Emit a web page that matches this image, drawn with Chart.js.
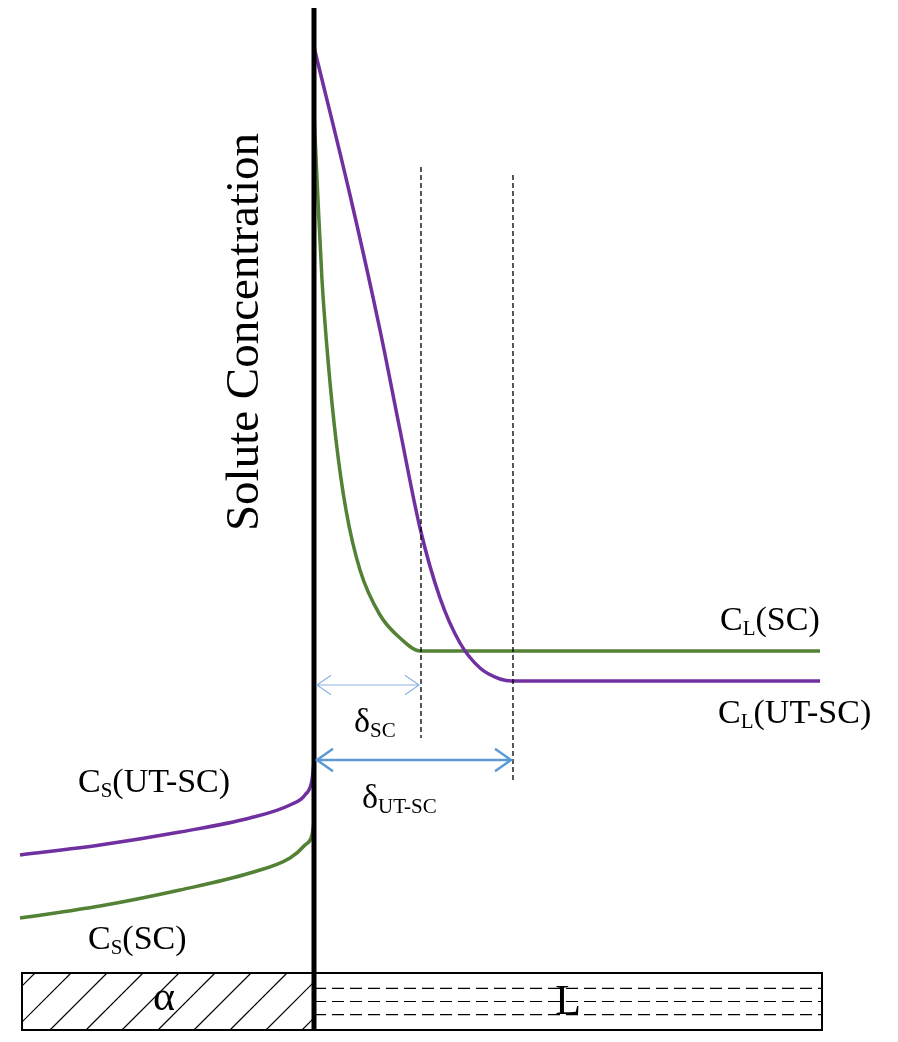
<!DOCTYPE html><html><head><meta charset="utf-8">
<script src="https://cdn.jsdelivr.net/npm/chart.js@4"></script>
<style>html,body{margin:0;padding:0;background:#fff}#w{width:898px;height:1042px}</style></head><body>
<div id="w"><canvas id="c"></canvas></div>
<script>
// x: position relative to interface (0 = interface); y: solute concentration (arbitrary units)
const purpleLiquidX=[0,0.18,0.33,0.43,0.53,0.63,0.73,0.83,0.93,0.99,2.53];
const purpleLiquidY=[9.95,8.47,7.12,6.12,5.14,4.44,3.99,3.74,3.63,3.61,3.61];
const greenLiquidX=[0,0.02,0.04,0.07,0.11,0.16,0.23,0.33,0.43,0.53,2.53];
const greenLiquidY=[9.29,8.42,7.62,6.82,6.02,5.32,4.72,4.27,4.04,3.91,3.91];
const purpleSolidX=[-1.47,-1.07,-0.67,-0.32,-0.12,-0.045,-0.01,0];
const purpleSolidY=[1.87,1.97,2.10,2.24,2.37,2.47,2.62,2.80];
const greenSolidX=[-1.47,-1.07,-0.67,-0.32,-0.12,-0.045,-0.01,0];
const greenSolidY=[1.24,1.36,1.52,1.69,1.84,1.97,2.07,2.20];
const deltaSC=0.535, deltaUT=0.995;
const pts=(xs,ys)=>xs.map((x,i)=>({x,y:ys[i]}));
const PURPLE='#7030a0', GREEN='#538135';
const serif='"Liberation Serif", "DejaVu Serif", serif';
const deco={id:'deco',afterDatasetsDraw(ch){
 const c=ch.ctx,X=ch.scales.x,Y=ch.scales.y,px=v=>X.getPixelForValue(v),py=v=>Y.getPixelForValue(v);
 c.save();
 const bx0=px(-1.46),bx1=px(2.54),by0=py(0.69),by1=py(0.12),ix=px(0);
 c.strokeStyle='#000';c.lineWidth=2;c.strokeRect(bx0,by0,bx1-bx0,by1-by0);
 c.save();c.beginPath();c.rect(bx0,by0,ix-bx0,by1-by0);c.clip();c.lineWidth=1.2;
 for(let s=bx0-80;s<ix+80;s+=36){c.beginPath();c.moveTo(s,by1);c.lineTo(s+(by1-by0),by0);c.stroke();}
 c.restore();
 c.setLineDash([12,6]);c.lineWidth=1.2;
 for(const f of [0.27,0.5,0.73]){const yy=by0+f*(by1-by0);c.beginPath();c.moveTo(ix,yy);c.lineTo(bx1,yy);c.stroke();}
 c.setLineDash([]);
 c.lineWidth=5;c.beginPath();c.moveTo(ix,py(10.34));c.lineTo(ix,py(0.12));c.stroke();
 c.lineWidth=1.3;c.setLineDash([5,3]);
 c.beginPath();c.moveTo(px(deltaSC),py(8.75));c.lineTo(px(deltaSC),py(3.04));c.stroke();
 c.beginPath();c.moveTo(px(deltaUT),py(8.67));c.lineTo(px(deltaUT),py(2.62));c.stroke();
 c.setLineDash([]);
 const arrow=(x0,x1,y,col,w,h)=>{c.strokeStyle=col;c.lineWidth=w;c.beginPath();c.moveTo(x0,y);c.lineTo(x1,y);
  c.moveTo(x0+h,y-h*0.7);c.lineTo(x0,y);c.lineTo(x0+h,y+h*0.7);
  c.moveTo(x1-h,y-h*0.7);c.lineTo(x1,y);c.lineTo(x1-h,y+h*0.7);c.stroke();};
 arrow(ix+3,px(deltaSC)-2,py(3.57),'#8db4e2',1.2,14);
 arrow(ix+3,px(deltaUT)-2,py(2.82),'#5b9bd5',2.5,16);
 c.fillStyle='#000';
 const sub=(main,s,rest,x,y,size)=>{c.font=size+'px '+serif;c.textBaseline='alphabetic';c.fillText(main,x,y);let w=c.measureText(main).width;
  c.font=Math.round(size*0.62)+'px '+serif;c.fillText(s,x+w,y+size*0.15);w+=c.measureText(s).width;
  c.font=size+'px '+serif;c.fillText(rest,x+w,y);};
 sub('C','L','(SC)',px(2.03),py(4.12),34);
 sub('C','L','(UT-SC)',px(2.02),py(3.19),34);
 sub('C','S','(UT-SC)',px(-1.18),py(2.5),34);
 sub('C','S','(SC)',px(-1.13),py(0.93),34);
 sub('δ','SC','',px(0.2),py(3.1),34);
 sub('δ','UT-SC','',px(0.24),py(2.34),34);
 c.font='42px '+serif;c.textAlign='center';c.textBaseline='middle';
 c.fillText('α',px(-0.75),py(0.43));c.fillText('L',px(1.27),py(0.39));
 c.save();c.translate(px(-0.34),py(7.1));c.rotate(-Math.PI/2);c.font='47px '+serif;c.fillText('Solute Concentration',0,0);c.restore();
 c.restore();}};
const ds=(d,col)=>({data:d,borderColor:col,borderWidth:3.5,pointRadius:0,showLine:true,cubicInterpolationMode:'monotone',fill:false});
new Chart(document.getElementById('c'),{type:'scatter',
 data:{datasets:[ds(pts(purpleLiquidX,purpleLiquidY),PURPLE),ds(pts(greenLiquidX,greenLiquidY),GREEN),ds(pts(purpleSolidX,purpleSolidY),PURPLE),ds(pts(greenSolidX,greenSolidY),GREEN)]},
 options:{responsive:true,maintainAspectRatio:false,animation:false,layout:{padding:0},
  plugins:{legend:{display:false},tooltip:{enabled:false}},
  scales:{x:{type:'linear',display:false,min:-1.57,max:2.92},y:{type:'linear',display:false,min:0,max:10.42}}},
 plugins:[deco]});
</script></body></html>
